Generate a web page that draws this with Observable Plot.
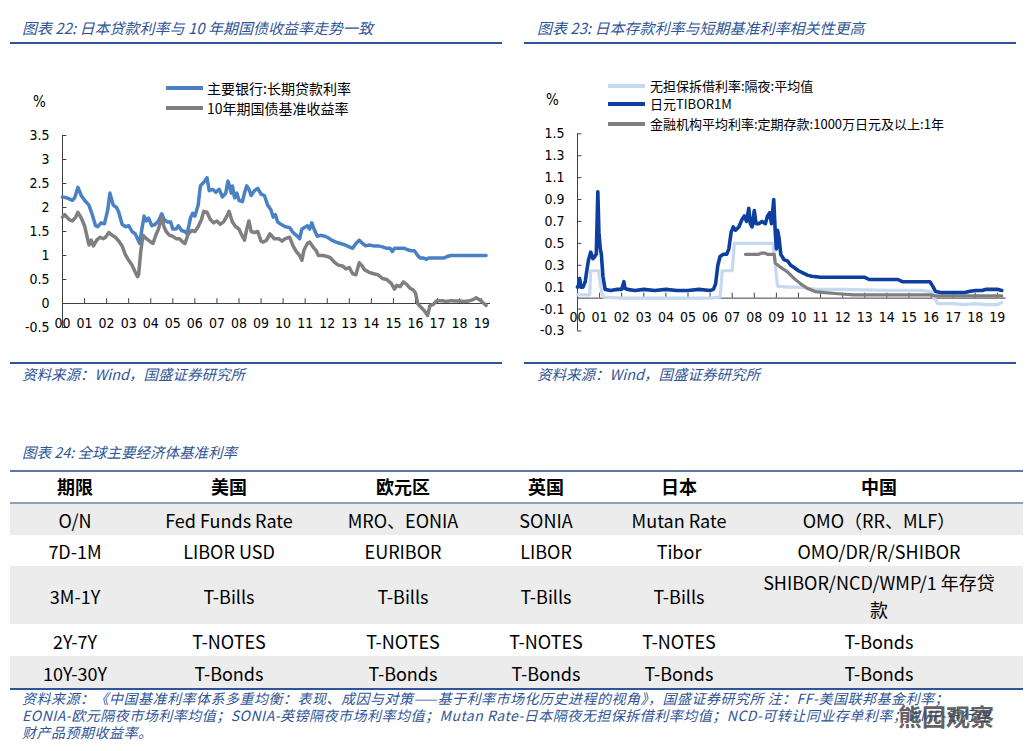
<!DOCTYPE html>
<html><head><meta charset="utf-8">
<script src="https://cdn.jsdelivr.net/npm/d3@7"></script>
<script src="https://cdn.jsdelivr.net/npm/@observablehq/plot@0.6"></script>
<style>
body{margin:0;background:#fff;width:1034px;height:751px;position:relative;overflow:hidden;font-family:"Noto Sans CJK SC",sans-serif;color:#000}
.abs{position:absolute;white-space:nowrap}
.title{font-size:15px;font-style:italic;color:#2f5597;line-height:20px}
.src{font-size:14.5px;font-style:italic;color:#2f5597;line-height:18px}
.leg{position:absolute;white-space:nowrap;line-height:18px}
.cell{position:absolute;transform:translateX(-50%);text-align:center;font-size:18px;line-height:27px;white-space:nowrap}
.head{font-weight:700}
.foot{font-size:14px;font-style:italic;color:#2f5597;line-height:17px;letter-spacing:0.5px;white-space:pre}
svg{overflow:visible}
</style></head>
<body>
<script>
// ---------- Data: chart 22 ----------
const loanYears = [2000.0,2000.2,2000.45,2000.55,2000.7,2000.85,2001.0,2001.2,2001.35,2001.5,2001.6,2001.75,2001.9,2002.05,2002.15,2002.3,2002.45,2002.55,2002.7,2002.85,2003.0,2003.15,2003.3,2003.4,2003.5,2003.6,2003.7,2003.8,2003.9,2004.05,2004.2,2004.35,2004.5,2004.6,2004.75,2004.9,2005.0,2005.15,2005.25,2005.4,2005.55,2005.65,2005.8,2005.9,2006.0,2006.15,2006.25,2006.35,2006.45,2006.55,2006.65,2006.8,2006.95,2007.1,2007.25,2007.4,2007.5,2007.55,2007.65,2007.7,2007.8,2007.9,2008.0,2008.15,2008.25,2008.35,2008.45,2008.55,2008.7,2008.85,2009.0,2009.15,2009.3,2009.45,2009.55,2009.65,2009.75,2009.9,2010.1,2010.3,2010.45,2010.6,2010.75,2010.85,2010.95,2011.1,2011.2,2011.3,2011.4,2011.55,2011.7,2011.9,2012.0,2012.2,2012.4,2012.6,2012.8,2013.0,2013.15,2013.3,2013.45,2013.6,2013.75,2013.9,2014.1,2014.3,2014.5,2014.7,2014.85,2014.95,2015.05,2015.3,2015.5,2015.65,2015.8,2015.95,2016.1,2016.2,2016.35,2016.5,2016.6,2016.8,2017.0,2017.3,2017.45,2017.6,2018.0,2018.5,2019.0,2019.2];
const loanRate = [2.22,2.2,2.15,2.2,2.42,2.25,2.15,2.05,1.85,1.62,1.6,1.68,1.66,1.95,2.3,2.05,2.0,1.9,1.65,1.6,1.62,1.5,1.45,1.35,1.25,1.55,1.82,1.72,1.78,1.62,1.65,1.72,1.87,1.75,1.7,1.7,1.55,1.55,1.62,1.52,1.5,1.45,1.78,1.88,1.82,2.05,2.45,2.5,2.55,2.62,2.35,2.38,2.32,2.38,2.22,2.3,2.55,2.48,2.3,2.45,2.2,2.3,2.15,2.12,2.3,2.45,2.38,2.25,2.35,2.4,2.28,2.25,2.05,1.95,1.8,1.85,1.7,1.65,1.6,1.58,1.48,1.42,1.35,1.55,1.58,1.62,1.55,1.68,1.55,1.4,1.42,1.4,1.38,1.32,1.28,1.25,1.22,1.18,1.15,1.25,1.32,1.25,1.2,1.22,1.2,1.2,1.18,1.15,1.15,1.08,1.15,1.15,1.15,1.12,1.1,1.1,1.0,0.95,0.95,0.92,0.95,0.95,0.95,0.95,0.98,1.0,1.0,1.0,1.0,1.0];
const jgbYears = [2000.0,2000.1,2000.3,2000.45,2000.6,2000.7,2000.85,2001.0,2001.1,2001.2,2001.3,2001.4,2001.55,2001.7,2001.85,2001.95,2002.1,2002.25,2002.4,2002.55,2002.7,2002.85,2003.0,2003.15,2003.3,2003.4,2003.45,2003.55,2003.65,2003.8,2003.95,2004.1,2004.25,2004.35,2004.5,2004.6,2004.7,2004.85,2005.0,2005.15,2005.3,2005.45,2005.55,2005.7,2005.85,2006.0,2006.15,2006.3,2006.4,2006.55,2006.7,2006.85,2007.0,2007.15,2007.3,2007.45,2007.55,2007.7,2007.85,2008.0,2008.1,2008.25,2008.35,2008.45,2008.55,2008.7,2008.85,2009.0,2009.1,2009.25,2009.4,2009.5,2009.6,2009.8,2009.95,2010.1,2010.3,2010.45,2010.6,2010.75,2010.85,2010.95,2011.1,2011.2,2011.35,2011.5,2011.6,2011.8,2012.0,2012.15,2012.35,2012.5,2012.7,2012.85,2013.0,2013.15,2013.3,2013.45,2013.55,2013.7,2013.9,2014.1,2014.3,2014.5,2014.7,2014.9,2015.05,2015.15,2015.3,2015.45,2015.6,2015.75,2015.9,2016.0,2016.1,2016.25,2016.4,2016.55,2016.65,2016.8,2016.95,2017.2,2017.4,2017.6,2017.8,2018.0,2018.2,2018.4,2018.6,2018.75,2018.9,2019.05,2019.2];
const jgbYield = [1.8,1.85,1.75,1.72,1.8,1.9,1.78,1.62,1.42,1.22,1.32,1.2,1.32,1.38,1.35,1.38,1.48,1.42,1.38,1.3,1.2,1.02,0.9,0.8,0.65,0.56,0.6,1.1,1.42,1.35,1.3,1.25,1.45,1.55,1.8,1.6,1.5,1.42,1.4,1.35,1.35,1.28,1.25,1.45,1.52,1.5,1.6,1.75,1.92,1.9,1.75,1.68,1.72,1.65,1.7,1.82,1.92,1.7,1.6,1.55,1.45,1.32,1.55,1.72,1.5,1.48,1.5,1.3,1.28,1.32,1.45,1.4,1.35,1.35,1.3,1.35,1.38,1.2,1.08,1.0,0.9,1.12,1.25,1.28,1.18,1.1,1.0,1.0,0.98,0.95,0.85,0.8,0.78,0.72,0.75,0.62,0.6,0.85,0.8,0.7,0.65,0.62,0.6,0.52,0.5,0.42,0.3,0.38,0.35,0.45,0.4,0.32,0.28,0.22,0.0,-0.08,-0.15,-0.25,-0.05,-0.02,0.05,0.06,0.04,0.06,0.05,0.05,0.04,0.05,0.08,0.12,0.08,0.02,-0.04];
const yTicks22 = [-0.5,0,0.5,1,1.5,2,2.5,3,3.5];

// ---------- Data: chart 23 ----------
const callYears = [2000.0,2000.55,2000.6,2000.95,2001.1,2001.2,2002.0,2004.0,2006.0,2006.45,2006.55,2007.0,2007.1,2008.0,2008.85,2008.95,2009.05,2009.5,2010.0,2010.4,2010.8,2012.0,2014.0,2015.5,2016.0,2016.15,2016.3,2017.0,2017.5,2018.0,2018.5,2019.0,2019.2];
const callRate = [0.03,0.03,0.25,0.25,0.05,0.01,0.0,0.0,0.0,0.01,0.25,0.25,0.5,0.5,0.5,0.3,0.11,0.1,0.1,0.09,0.08,0.08,0.07,0.07,0.06,0.0,-0.05,-0.05,-0.06,-0.05,-0.06,-0.06,-0.04];
const tiborYears = [2000.0,2000.05,2000.1,2000.15,2000.25,2000.35,2000.42,2000.5,2000.6,2000.7,2000.78,2000.85,2000.92,2000.97,2001.03,2001.08,2001.15,2001.25,2001.5,2001.8,2002.0,2002.1,2002.15,2002.25,2002.6,2003.0,2003.5,2004.0,2004.5,2005.0,2005.5,2006.0,2006.15,2006.25,2006.35,2006.45,2006.6,2006.75,2006.85,2006.95,2007.05,2007.15,2007.3,2007.45,2007.55,2007.65,2007.75,2007.82,2007.9,2008.0,2008.08,2008.2,2008.35,2008.5,2008.6,2008.7,2008.78,2008.88,2008.95,2009.0,2009.05,2009.12,2009.2,2009.35,2009.5,2009.65,2009.8,2010.0,2010.2,2010.4,2010.6,2011.0,2011.5,2012.0,2012.5,2013.0,2013.2,2013.5,2014.0,2014.5,2014.7,2015.0,2015.5,2015.95,2016.1,2016.2,2016.5,2017.0,2017.5,2017.7,2018.0,2018.3,2018.5,2018.8,2019.0,2019.2];
const tiborRate = [0.1,0.12,0.18,0.1,0.1,0.15,0.25,0.35,0.42,0.36,0.38,0.4,0.97,0.6,0.45,0.4,0.2,0.08,0.07,0.08,0.08,0.15,0.09,0.08,0.07,0.08,0.07,0.08,0.07,0.07,0.08,0.07,0.08,0.13,0.3,0.38,0.4,0.4,0.45,0.6,0.65,0.62,0.65,0.72,0.75,0.7,0.82,0.68,0.65,0.8,0.68,0.68,0.7,0.68,0.75,0.78,0.68,0.9,0.6,0.45,0.62,0.55,0.4,0.35,0.34,0.3,0.28,0.25,0.23,0.21,0.2,0.19,0.19,0.19,0.19,0.19,0.17,0.17,0.17,0.17,0.15,0.15,0.15,0.15,0.1,0.06,0.05,0.05,0.05,0.06,0.07,0.07,0.08,0.08,0.08,0.07];
const depositYears = [2007.6,2008.2,2008.3,2008.5,2008.6,2008.9,2008.95,2009.2,2009.5,2009.8,2010.1,2010.4,2010.75,2011.2,2011.8,2012.5,2014.0,2016.0,2016.2,2019.2];
const depositRate = [0.4,0.4,0.41,0.41,0.4,0.4,0.32,0.28,0.24,0.18,0.13,0.09,0.06,0.05,0.04,0.03,0.03,0.03,0.02,0.02];
const yTicks23 = [-0.3,-0.1,0.1,0.3,0.5,0.7,0.9,1.1,1.3,1.5];

const years = d3.range(2000, 2020);
const yearLabels = years.map(y => String(y % 100).padStart(2, "0"));

// ---------- Data: table 24 ----------
const tableHeaders = ["期限","美国","欧元区","英国","日本","中国"];
const tenors = ["O/N","7D-1M","3M-1Y","2Y-7Y","10Y-30Y"];
const usRates = ["Fed Funds Rate","LIBOR USD","T-Bills","T-NOTES","T-Bonds"];
const euroRates = ["MRO、EONIA","EURIBOR","T-Bills","T-NOTES","T-Bonds"];
const ukRates = ["SONIA","LIBOR","T-Bills","T-NOTES","T-Bonds"];
const jpRates = ["Mutan Rate","Tibor","T-Bills","T-NOTES","T-Bonds"];
const cnRates = ["OMO（RR、MLF）","OMO/DR/R/SHIBOR","SHIBOR/NCD/WMP/1 年存贷款","T-Bonds","T-Bonds"];
const footLines = [
  "资料来源：《中国基准利率体系多重均衡：表现、成因与对策——基于利率市场化历史进程的视角》，国盛证券研究所 注：FF-美国联邦基金利率；",
  "EONIA-欧元隔夜市场利率均值；SONIA-英镑隔夜市场利率均值；Mutan Rate-日本隔夜无担保拆借利率均值；NCD-可转让同业存单利率；WMP-银行理",
  "财产品预期收益率。"
];

// ---------- helpers ----------
const body = document.body;
function div(cls, left, top, html, extra = {}) {
  const d = document.createElement("div");
  d.className = cls;
  d.style.left = left + "px"; d.style.top = top + "px";
  d.textContent = html;
  Object.assign(d.style, extra);
  body.appendChild(d);
  return d;
}
function box(left, top, w, h, color) {
  const d = document.createElement("div");
  Object.assign(d.style, {position:"absolute", left:left+"px", top:top+"px", width:w+"px", height:h+"px", background:color});
  body.appendChild(d);
}
const tickFont = '"DejaVu Sans Condensed","DejaVu Sans",sans-serif';

// ---------- Titles & rules ----------
div("abs title", 22, 18, "图表 22:  日本贷款利率与 10 年期国债收益率走势一致");
div("abs title", 537, 18, "图表 23:  日本存款利率与短期基准利率相关性更高");
box(10, 42, 492, 2, "#2f5597");
box(524, 42, 492, 2, "#2f5597");
box(10, 362, 492, 2, "#2f5597");
box(524, 362, 492, 2, "#2f5597");
div("abs src", 22, 365, "资料来源：Wind，国盛证券研究所");
div("abs src", 537, 365, "资料来源：Wind，国盛证券研究所");

// ---------- Chart 22 ----------
const c1Blue = "#4a81c5", c1Gray = "#7f7f7f";
const loan = loanYears.map((x, i) => ({x, y: loanRate[i]}));
const jgb = jgbYears.map((x, i) => ({x, y: jgbYield[i]}));
const chart1 = Plot.plot({
  width: 510, height: 240,
  style: {background: "transparent", fontFamily: tickFont, fontSize: "14px", color: "#000"},
  x: {domain: [2000, 2019.4], range: [62, 490], axis: null},
  y: {domain: [-0.5, 3.5], range: [217, 25], axis: null},
  marks: [
    Plot.ruleX([2000], {y1: -0.5, y2: 3.5, stroke: "#404040", strokeWidth: 1}),
    Plot.ruleY(yTicks22, {y: d => d, x1: 2000, x2: 2000.2, stroke: "#404040"}),
    Plot.ruleY([0], {x1: 2000, x2: 2019.4, stroke: "#404040"}),
    Plot.ruleX(years.slice(1), {x: d => d, y1: 0, y2: 0.1, stroke: "#404040"}),
    Plot.text(yTicks22, {x: 2000, y: d => d, text: d => String(d), textAnchor: "end", dx: -13, fontSize: 14}),
    Plot.text(years, {x: d => d, y: 0, text: (d, i) => yearLabels[i], dy: 20, fontSize: 14}),
    Plot.line(loan, {x: "x", y: "y", stroke: c1Blue, strokeWidth: 3.5, curve: "linear"}),
    Plot.line(jgb, {x: "x", y: "y", stroke: c1Gray, strokeWidth: 3.5, curve: "linear"})
  ]
});
chart1.style.position = "absolute"; chart1.style.left = "0px"; chart1.style.top = "110px";
body.appendChild(chart1);
div("abs", 33, 92, "%", {fontFamily: tickFont, fontSize: "15px", lineHeight: "20px"});
box(166, 86, 37, 4, c1Blue);
box(166, 106, 37, 4, c1Gray);
div("leg", 207, 79, "主要银行:长期贷款利率", {fontSize: "14px"});
div("leg", 207, 99, "10年期国债基准收益率", {fontSize: "14px"});

// ---------- Chart 23 ----------
const cLight = "#c6d9f0", cDark = "#0d3f9f", cGray = "#7f7f7f";
const call = callYears.map((x, i) => ({x, y: callRate[i]}));
const tibor = tiborYears.map((x, i) => ({x, y: tiborRate[i]}));
const dep = depositYears.map((x, i) => ({x, y: depositRate[i]}));
const chart2 = Plot.plot({
  width: 519, height: 240,
  style: {background: "transparent", fontFamily: tickFont, fontSize: "14px", color: "#000"},
  x: {domain: [2000, 2019.4], range: [62, 490.7], axis: null},
  y: {domain: [-0.3, 1.5], range: [220.5, 23.3], axis: null},
  marks: [
    Plot.ruleX([2000], {y1: -0.3, y2: 1.5, stroke: "#404040"}),
    Plot.ruleY(yTicks23, {y: d => d, x1: 2000, x2: 2000.2, stroke: "#404040"}),
    Plot.ruleY([0], {x1: 2000, x2: 2019.4, stroke: "#404040"}),
    Plot.ruleX(years.slice(1), {x: d => d, y1: 0, y2: 0.045, stroke: "#404040"}),
    Plot.text(yTicks23, {x: 2000, y: d => d, text: d => d.toFixed(1), textAnchor: "end", dx: -13, fontSize: 14}),
    Plot.text(years, {x: d => d, y: 0, text: (d, i) => yearLabels[i], dy: 19, fontSize: 14}),
    Plot.line(call, {x: "x", y: "y", stroke: cLight, strokeWidth: 3.2}),
    Plot.line(tibor, {x: "x", y: "y", stroke: cDark, strokeWidth: 3.6}),
    Plot.line(dep, {x: "x", y: "y", stroke: cGray, strokeWidth: 3.2})
  ]
});
chart2.style.position = "absolute"; chart2.style.left = "515px"; chart2.style.top = "110px";
body.appendChild(chart2);
div("abs", 546, 90, "%", {fontFamily: tickFont, fontSize: "15px", lineHeight: "20px"});
box(608, 84, 37, 4, cLight);
box(608, 102, 37, 4, cDark);
box(608, 122, 37, 4, cGray);
div("leg", 650, 77, "无担保拆借利率:隔夜:平均值", {fontSize: "13px"});
div("leg", 650, 95, "日元TIBOR1M", {fontSize: "13px"});
div("leg", 650, 115, "金融机构平均利率:定期存款:1000万日元及以上:1年", {fontSize: "13px"});

// ---------- Table 24 ----------
div("abs title", 22, 442, "图表 24:  全球主要经济体基准利率", {fontSize: "14.5px"});
const colCenters = [75, 229, 403, 546, 679, 879];
const rowTops = [504, 535, 566, 624, 656];
const rowBottom = 688;
rowTops.forEach((t, i) => {
  const b = i < rowTops.length - 1 ? rowTops[i + 1] : rowBottom;
  if (i % 2 === 0) box(10, t, 1013, b - t, "#ececec");
});
box(10, 470, 1013, 2, "#5a77a6");
box(10, 502, 1013, 2, "#8c9fc0");
box(10, 688, 1013, 2, "#2f5597");
tableHeaders.forEach((h, j) => div("cell head", colCenters[j], 473, h));
const cols = [tenors, usRates, euroRates, ukRates, jpRates, cnRates];
rowTops.forEach((t, i) => {
  const b = i < rowTops.length - 1 ? rowTops[i + 1] : rowBottom;
  cols.forEach((col, j) => {
    const d = div("cell", colCenters[j], 0, col[i]);
    if (j === 5 && i === 2) {
      d.style.whiteSpace = "normal"; d.style.width = "246px";
    }
    const h = d.getBoundingClientRect().height;
    d.style.top = ((t + b) / 2 - h / 2 + 1) + "px";
  });
});
div("abs foot", 22, 690, footLines.join("\n"));
div("abs", 898, 701, "熊园观察", {fontSize: "24px", lineHeight: "30px", color: "rgba(70,70,70,0.85)", fontWeight: "700"});
</script>
</body></html>
